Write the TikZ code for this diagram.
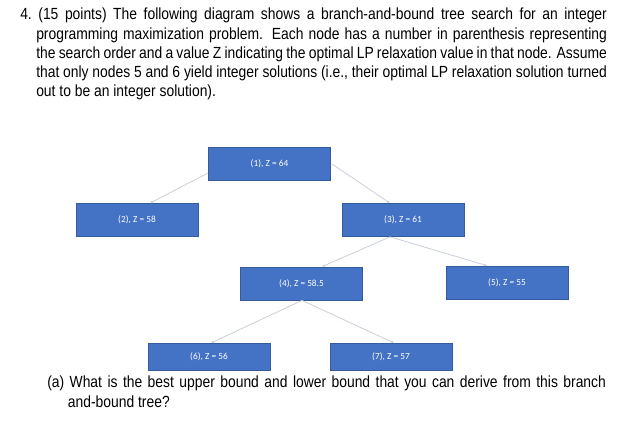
\documentclass[tikz,border=0pt]{standalone}
\usepackage{fontspec}
\setmainfont{Liberation Sans}[FakeStretch=0.86]
\newfontfamily\nodefont{Carlito}
\usetikzlibrary{arrows.meta}
\definecolor{boxblue}{RGB}{68,114,196}
\definecolor{edgegray}{RGB}{200,206,220}
\begin{document}
\begin{tikzpicture}[x=0.75pt,y=-0.75pt,
  box/.style={fill=boxblue,draw=boxblue!80!black,line width=0.3pt,minimum width=91.5pt,minimum height=25pt,inner sep=0pt,text=white,font=\nodefont\fontsize{7}{8}\selectfont},
  edge/.style={draw=edgegray,line width=0.6pt,-{Latex[length=2pt,width=2pt]}},
  para/.style={anchor=north west,inner sep=0pt,align=justify,font=\fontsize{12.1}{14.3}\selectfont}]
\useasboundingbox (0,0) rectangle (624,421);
\node[para,text width=440pt] (q) at (20,8) {\hyphenpenalty=10000\exhyphenpenalty=10000\hangindent=12pt\hangafter=1 4.\ (15 points) The following diagram shows a branch-and-bound tree search for an integer programming maximization problem. Each node has a number in parenthesis representing the search order and a value Z indicating the optimal LP relaxation value in that node. Assume that only nodes 5 and 6 yield integer solutions (i.e., their optimal LP relaxation solution turned out to be an integer solution).\par};
\node[box] (n1) at (269.5,163.5) {(1), Z = 64};
\node[box] (n2) at (137,220) {(2), Z = 58};
\node[box] (n3) at (403,220) {(3), Z = 61};
\node[box] (n4) at (301.5,283.5) {(4), Z = 58.5};
\node[box] (n5) at (507,282.5) {(5), Z = 55};
\node[box,minimum height=20pt] (n6) at (209,356.5) {(6), Z = 56};
\node[box,minimum height=20pt] (n7) at (391,356.5) {(7), Z = 57};
\coordinate (c1l) at (208,173);
\coordinate (c1r) at (332,164);
\draw[edge] (c1l) -- (n2.north west -| 150,203);
\draw[edge] (c1r) -- (n3.north west -| 390,203);
\draw[edge] (n3.south west -| 390,237) -- (n4.north west -| 322,266);
\draw[edge] (n3.south west -| 390,237) -- (n5.north west -| 487,266);
\draw[edge] (n4.south west -| 302,300) -- (n6.north west -| 211,343);
\draw[edge] (n4.south west -| 302,300) -- (n7.north west -| 394,343);
\node[para,text width=419pt] (a) at (47,376) {\hyphenpenalty=10000\exhyphenpenalty=10000\hangindent=15.5pt\hangafter=1 (a) What is the best upper bound and lower bound that you can derive from this branch and-bound tree?\par};
\end{tikzpicture}
\end{document}
